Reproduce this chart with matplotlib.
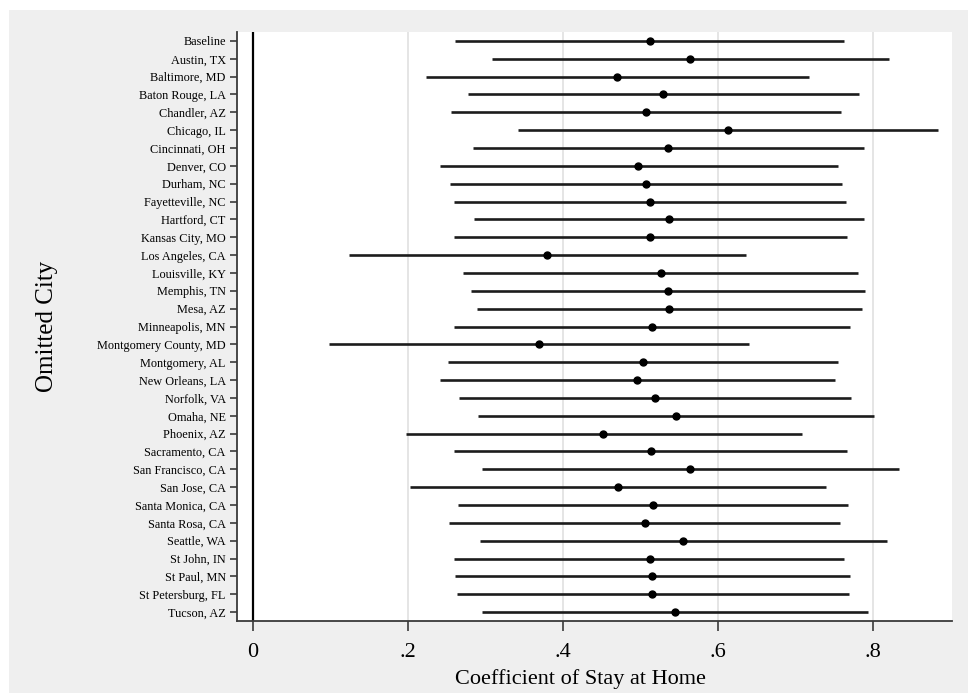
import matplotlib
matplotlib.use("Agg")
import matplotlib.pyplot as plt
from matplotlib.patches import Rectangle

cities = ["Baseline", "Austin, TX", "Baltimore, MD", "Baton Rouge, LA", "Chandler, AZ",
          "Chicago, IL", "Cincinnati, OH", "Denver, CO", "Durham, NC", "Fayetteville, NC",
          "Hartford, CT", "Kansas City, MO", "Los Angeles, CA", "Louisville, KY",
          "Memphis, TN", "Mesa, AZ", "Minneapolis, MN", "Montgomery County, MD",
          "Montgomery, AL", "New Orleans, LA", "Norfolk, VA", "Omaha, NE", "Phoenix, AZ",
          "Sacramento, CA", "San Francisco, CA", "San Jose, CA", "Santa Monica, CA",
          "Santa Rosa, CA", "Seattle, WA", "St John, IN", "St Paul, MN",
          "St Petersburg, FL", "Tucson, AZ"]

coef = [0.512, 0.564, 0.470, 0.529, 0.507, 0.613, 0.536, 0.497, 0.507, 0.512, 0.537,
        0.512, 0.380, 0.526, 0.536, 0.537, 0.515, 0.369, 0.503, 0.496, 0.519, 0.546,
        0.452, 0.513, 0.564, 0.471, 0.516, 0.506, 0.555, 0.512, 0.515, 0.515, 0.545]

ci_low = [0.261, 0.308, 0.223, 0.277, 0.256, 0.342, 0.284, 0.241, 0.254, 0.260, 0.285,
          0.260, 0.124, 0.271, 0.281, 0.289, 0.260, 0.098, 0.252, 0.242, 0.266, 0.291,
          0.197, 0.260, 0.296, 0.203, 0.264, 0.253, 0.293, 0.260, 0.261, 0.263, 0.296]

ci_high = [0.763, 0.821, 0.717, 0.782, 0.759, 0.884, 0.789, 0.755, 0.760, 0.765, 0.789,
           0.766, 0.636, 0.781, 0.790, 0.786, 0.771, 0.640, 0.755, 0.751, 0.772, 0.801,
           0.708, 0.767, 0.834, 0.740, 0.768, 0.758, 0.818, 0.763, 0.770, 0.769, 0.794]

xticks = [0, 0.2, 0.4, 0.6, 0.8]
xticklabels = ["0", ".2", ".4", ".6", ".8"]

plt.rcParams['font.family'] = ['Liberation Serif', 'DejaVu Serif']

fig = plt.figure(figsize=(9.68, 6.93), dpi=100)
fig.patch.set_facecolor("white")
# grey Stata-like background
fig.patches.append(Rectangle((9 / 968, 0), 1, 1 - 10 / 693, transform=fig.transFigure,
                             facecolor="#efefef", edgecolor="none", zorder=-1))

ax = fig.add_axes([0.2448, 0.1039, 0.7387, 0.8499])
ax.set_facecolor("white")

y = list(range(1, len(cities) + 1))

for g in xticks[1:]:
    ax.axvline(g, color="#e3e3e3", lw=1.3, zorder=0)
ax.axvline(0, color="black", lw=1.6, zorder=1)

ax.hlines(y, ci_low, ci_high, color="#1c1c1c", lw=1.9, zorder=2)
ax.plot(coef, y, "o", color="black", ms=5, zorder=3)

ax.set_ylim(len(cities) + 0.5, 0.5)
ax.set_xlim(-0.0206, 0.902)

ax.set_yticks(y)
ax.set_yticklabels(cities, fontsize=8.8)
ax.set_xticks(xticks)
ax.set_xticklabels(xticklabels, fontsize=16)

for s in ["top", "right"]:
    ax.spines[s].set_visible(False)
for s in ["left", "bottom"]:
    ax.spines[s].set_color("#3a3a3a")
    ax.spines[s].set_linewidth(1.3)
ax.tick_params(axis="y", length=5, width=1.2, color="#3a3a3a", pad=3)
ax.tick_params(axis="x", length=7, width=1.2, color="#3a3a3a", pad=9)

ax.set_xlabel("Coefficient of Stay at Home", fontsize=16)
ax.xaxis.set_label_coords(0.481, -0.0815)
ax.set_ylabel("Omitted City", fontsize=18)
ax.yaxis.set_label_coords(-0.25, 0.5)

fig.savefig("out.png", dpi=100)
